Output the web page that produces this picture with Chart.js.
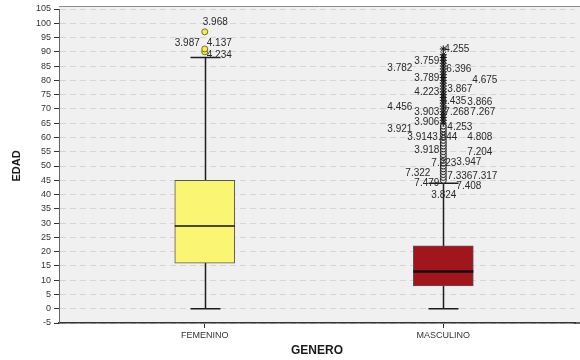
<!DOCTYPE html>
<html>
<head>
<meta charset="utf-8">
<script src="https://cdn.jsdelivr.net/npm/chart.js@4/dist/chart.umd.min.js"></script>
<style>
  html, body { margin: 0; padding: 0; background: #fff; }
  #wrap { width: 580px; height: 360px; }
</style>
</head>
<body>
<div id="wrap"><canvas id="boxChart"></canvas></div>
<script>
// box plot values per category (EDAD by GENERO)
const categories = ['FEMENINO', 'MASCULINO'];
const lowerWhisker = [0, 0];
const q1 = [16, 8];
const median = [29, 13];
const q3 = [45, 22];
const upperWhisker = [88, 44];

// outliers (circles) and extremes (stars)
const femOutliers = [90, 91, 97];
const mascOutliers = [45, 46, 47, 48, 49, 50, 51, 52, 53, 54, 55, 56, 57, 58, 59, 60, 61, 62, 63, 64];
const mascExtremes = [65, 66, 67, 68, 69, 70, 71, 72, 73, 74, 75, 76, 77, 78, 79, 80, 81, 82, 83, 84, 85, 86, 87, 88, 89, 91];

// case labels, and the age level where each label sits
const femCaseIds = ['3.968', '3.987', '4.137', '4.234'];
const femCaseAt = [100.2, 92.9, 92.9, 88.7];
const mascCaseIds = ['4.255', '3.759', '3.782', '6.396', '3.789', '4.675', '3.867', '4.223', '4.435', '3.866',
  '4.456', '3.903', '7.268', '7.267', '3.906', '4.253', '3.921', '3.914', '3.844', '4.808',
  '3.918', '7.204', '7.223', '3.947', '7.322', '7.336', '7.317', '7.479', '7.408', '3.824'];
const mascCaseAt = [90.8, 86.6, 84.1, 83.8, 80.8, 80.1, 76.8, 75.7, 72.6, 72.2,
  70.5, 68.7, 68.7, 68.7, 65.2, 63.5, 62.8, 60, 60, 60,
  55.5, 54.7, 50.9, 51.2, 47.4, 46.3, 46.3, 43.9, 42.8, 39.7];

// label x offsets from the box centre (px, left edge of text)
const femLabelDx = [-2, -30, 2, 2];
const mascLabelDx = [1, -29, -56, 3, -29, 29, 4, -29, -2, 24,
  -56, -29, 1, 27, -29, 4, -56, -36, -11, 24,
  -29, 24, -12, 13, -38, 4, 29, -29, 13, -12];

const FONT = 'Liberation Sans, Arial, sans-serif';

const plotBackground = {
  id: 'plotBackground',
  beforeDraw(chart) {
    const {ctx, chartArea: a} = chart;
    ctx.save();
    ctx.fillStyle = '#f0f0f0';
    ctx.fillRect(a.left, a.top - 3, chart.width - a.left, a.bottom - a.top + 3);
    ctx.strokeStyle = '#8c8c8c';
    ctx.lineWidth = 1;
    ctx.beginPath();
    ctx.moveTo(a.left, a.top - 2.5);
    ctx.lineTo(chart.width, a.top - 2.5);
    ctx.stroke();
    ctx.restore();
  },
  afterDraw(chart) {
    // bottom frame runs to the edge of the picture
    const {ctx, chartArea: a} = chart;
    ctx.save();
    ctx.strokeStyle = '#333';
    ctx.lineWidth = 1.5;
    ctx.beginPath();
    ctx.moveTo(a.right - 1, a.bottom);
    ctx.lineTo(chart.width, a.bottom);
    ctx.stroke();
    ctx.restore();
  }
};

const boxParts = {
  id: 'boxParts',
  beforeDatasetsDraw(chart) {
    const {ctx, scales: {x, y}} = chart;
    ctx.save();
    ctx.strokeStyle = '#1e1e1e';
    ctx.lineWidth = 1.5;
    categories.forEach((c, i) => {
      const cx = Math.round(x.getPixelForValue(i + 1)) + 0.5;
      ctx.beginPath();
      ctx.moveTo(cx, y.getPixelForValue(q3[i]));
      ctx.lineTo(cx, y.getPixelForValue(upperWhisker[i]));
      ctx.moveTo(cx, y.getPixelForValue(q1[i]));
      ctx.lineTo(cx, y.getPixelForValue(lowerWhisker[i]));
      const top = y.getPixelForValue(upperWhisker[i]);
      const bot = y.getPixelForValue(lowerWhisker[i]);
      ctx.moveTo(cx - 15, top);
      ctx.lineTo(cx + 15, top);
      ctx.moveTo(cx - 15, bot);
      ctx.lineTo(cx + 15, bot);
      ctx.stroke();
    });
    ctx.restore();
  },
  afterDatasetsDraw(chart) {
    const {ctx, scales: {x, y}} = chart;
    ctx.save();
    ctx.strokeStyle = '#111';
    categories.forEach((c, i) => {
      const cx = x.getPixelForValue(i + 1);
      ctx.lineWidth = i === 0 ? 1.5 : 2.5;
      ctx.beginPath();
      ctx.moveTo(cx - 30, y.getPixelForValue(median[i]));
      ctx.lineTo(cx + 30, y.getPixelForValue(median[i]));
      ctx.stroke();
    });
    // case number labels
    ctx.fillStyle = '#2a2a2a';
    ctx.font = '10px ' + FONT;
    ctx.textAlign = 'left';
    ctx.textBaseline = 'middle';
    const fx = x.getPixelForValue(1);
    femCaseIds.forEach((t, k) => ctx.fillText(t, fx + femLabelDx[k], y.getPixelForValue(femCaseAt[k])));
    const mx = x.getPixelForValue(2);
    mascCaseIds.forEach((t, k) => ctx.fillText(t, mx + mascLabelDx[k], y.getPixelForValue(mascCaseAt[k])));
    ctx.restore();
  }
};

const ctx = document.getElementById('boxChart').getContext('2d');
const boxChart = new Chart(ctx, {
  type: 'bar',
  data: {
    datasets: [
      {
        type: 'line',
        label: 'Extremos',
        data: mascExtremes.map(v => ({x: 2, y: v})),
        showLine: false,
        pointStyle: 'star',
        pointRadius: 3.5,
        borderColor: '#151515',
        borderWidth: 1,
        order: 1
      },
      {
        type: 'line',
        label: 'Atipicos M',
        data: mascOutliers.map(v => ({x: 2, y: v})),
        showLine: false,
        pointStyle: 'circle',
        pointRadius: 3,
        backgroundColor: 'rgba(240,240,240,0.6)',
        borderColor: '#1e1e1e',
        borderWidth: 1,
        order: 2
      },
      {
        type: 'line',
        label: 'Atipicos F',
        data: femOutliers.map(v => ({x: 1, y: v})),
        showLine: false,
        pointStyle: 'circle',
        pointRadius: 3,
        backgroundColor: '#f4ec5c',
        borderColor: '#77711e',
        borderWidth: 1,
        order: 3
      },
      {
        label: 'Caja',
        data: categories.map((c, i) => ({x: i + 1, y: [q1[i], q3[i]]})),
        backgroundColor: ['#faf573', '#a1161c'],
        borderColor: '#555',
        borderWidth: 1,
        borderSkipped: false,
        barThickness: 60,
        order: 4
      }
    ]
  },
  options: {
    responsive: true,
    maintainAspectRatio: false,
    animation: false,
    layout: {padding: {top: 9, right: 0, bottom: 0, left: 0}},
    scales: {
      x: {
        type: 'linear',
        min: 0.389,
        max: 2.552,
        offset: false,
        afterBuildTicks: scale => { scale.ticks = [{value: 1}, {value: 2}]; },
        afterFit: scale => { scale.height = 37; },
        ticks: {
          callback: v => categories[v - 1],
          font: {family: FONT, size: 9},
          color: '#333',
          padding: 2,
          maxRotation: 0
        },
        grid: {offset: false, drawOnChartArea: false, tickLength: 5, tickColor: '#333'},
        border: {color: '#333', width: 1.5},
        title: {
          display: true,
          text: 'GENERO',
          font: {family: FONT, size: 12, weight: 'bold'},
          color: '#1a1a1a',
          padding: {top: 0, bottom: 2}
        }
      },
      y: {
        min: -5,
        max: 105,
        afterFit: scale => { scale.width = 59; },
        ticks: {
          stepSize: 5,
          font: {family: FONT, size: 9},
          color: '#333',
          padding: 3
        },
        grid: {color: '#d6d6d6', tickLength: 5, tickColor: '#333'},
        border: {color: '#666', width: 1, dash: [6, 4]},
        title: {
          display: true,
          text: 'EDAD',
          font: {family: FONT, size: 11, weight: 'bold'},
          color: '#1a1a1a',
          padding: {top: 10, bottom: 0}
        }
      }
    },
    plugins: {
      legend: {display: false},
      tooltip: {enabled: false}
    }
  },
  plugins: [plotBackground, boxParts]
});
</script>
</body>
</html>
